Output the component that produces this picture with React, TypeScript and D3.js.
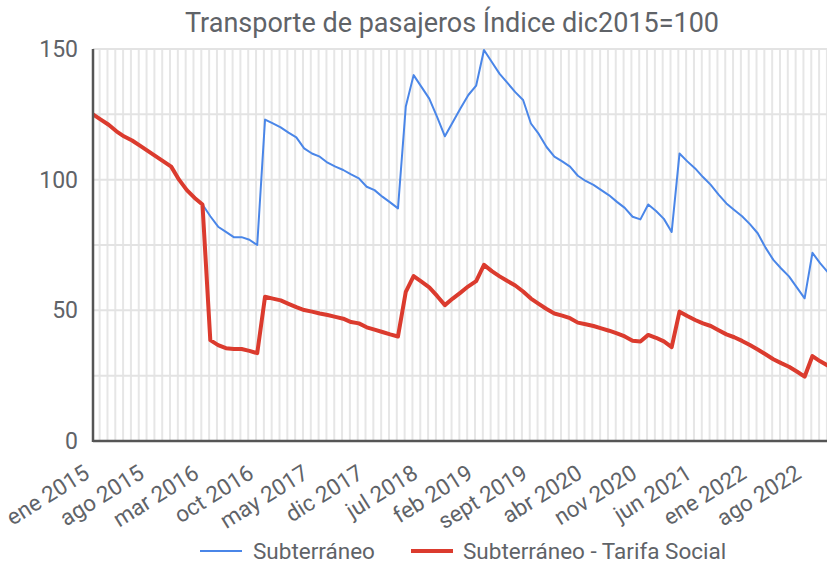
import React from "react";
import * as d3 from "d3";

const subte: number[] = [
  125, 123, 121, 118.5, 116.5, 115, 113, 111, 109, 107, 105, 100, 96, 93, 90.5,
  86, 82, 80, 78, 78, 77, 75,
  123, 121.5, 120, 118, 116.2, 112, 110, 108.8, 106.5, 105, 103.7, 102, 100.5, 97.3, 96, 93.5, 91.3, 89,
  128, 140, 135.5, 131, 124, 116.6, 122, 127.3, 132.4, 136,
  149.6, 145, 140.5, 137, 133.5, 130.5, 121.5, 117.5, 112.5, 108.8, 107, 105, 101.5, 99.5,
  98, 96, 94, 91.5, 89.2, 85.8, 84.8, 90.5, 88, 85, 80,
  110, 107, 104.3, 101, 98, 94.3, 90.9, 88.4, 86, 83, 79.5, 74, 69.3, 66, 63, 58.8, 54.6,
  72, 68, 64.5,
];

const tarifaSocial: number[] = [
  125, 123, 121, 118.5, 116.5, 115, 113, 111, 109, 107, 105, 100, 96, 93, 90.5,
  38.6, 36.7, 35.5, 35.2, 35.2, 34.5, 33.6,
  55.2, 54.5, 53.8, 52.5, 51.2, 50.1, 49.5, 48.8, 48.2, 47.5, 46.8, 45.5, 45, 43.5, 42.6, 41.7, 40.8, 40,
  57.1, 63.1, 61, 58.8, 55.5, 52, 54.5, 56.8, 59.2, 61.2,
  67.4, 65, 63, 61.2, 59.5, 57.2, 54.5, 52.5, 50.5, 48.8, 48, 47, 45.3, 44.7,
  44, 43.1, 42.2, 41.2, 40, 38.4, 38.1, 40.6, 39.5, 38.1, 35.9,
  49.5, 47.8, 46.3, 45, 44, 42.4, 40.8, 39.7, 38.3, 36.7, 35, 33.2, 31.3, 29.8, 28.4, 26.6, 24.6,
  32.5, 30.5, 28.8,
];

const xTickLabels: string[] = [
  "ene 2015", "ago 2015", "mar 2016", "oct 2016", "may 2017", "dic 2017", "jul 2018",
  "feb 2019", "sept 2019", "abr 2020", "nov 2020", "jun 2021", "ene 2022", "ago 2022",
];
const xTickStep = 7;
const yTicks: number[] = [0, 50, 100, 150];
const yGrid: number[] = [0, 25, 50, 75, 100, 125, 150];

const title = "Transporte de pasajeros Índice dic2015=100";
const seriesNames = ["Subterráneo", "Subterráneo - Tarifa Social"];

const W = 827;
const H = 565;
const FONT = "Roboto, 'Noto Sans', sans-serif";
const TEXT = "#5f6368";
const BLUE = "#4a86e8";
const RED = "#db3b2e";

export default function App() {
  const n = subte.length;
  const x = d3.scaleLinear().domain([0, n - 1]).range([93, 93 + (n - 1) * 7.82]);
  const y = d3.scaleLinear().domain([0, 150]).range([441, 49]);

  const line = d3
    .line<number>()
    .x((_, i) => x(i))
    .y((d) => y(d));

  const vGrid = d3.range(0, n + 1).map((i) => x(i + 0.85)).filter((v) => v < W);

  return (
    <div style={{ position: "absolute", left: 0, top: 0, width: W, height: H, overflow: "hidden" }}>
      <svg width={W} height={H} style={{ display: "block", background: "#fff" }} fontFamily={FONT}>
        <text x={452} y={32} textAnchor="middle" fontSize={27} fill={TEXT}>
          {title}
        </text>
        {vGrid.map((gx, i) => (
          <line key={"v" + i} x1={gx} x2={gx} y1={y(150)} y2={y(0)} stroke="#e6e6e6" strokeWidth={2} />
        ))}
        {yGrid.map((t) => (
          <line key={"h" + t} x1={x(0)} x2={W} y1={y(t)} y2={y(t)} stroke="#e3e3e3" strokeWidth={2} />
        ))}
        {yTicks.map((t) => (
          <text key={"yt" + t} x={78} y={y(t) + 8} textAnchor="end" fontSize={23} fill={TEXT}>
            {t}
          </text>
        ))}
        <path d={line(subte) || ""} fill="none" stroke={BLUE} strokeWidth={2} strokeLinejoin="round" />
        <path d={line(tarifaSocial) || ""} fill="none" stroke={RED} strokeWidth={4} strokeLinejoin="round" />
        <line x1={x(0)} x2={x(0)} y1={y(150)} y2={y(0) + 1} stroke="#555" strokeWidth={2.5} />
        <line x1={x(0)} x2={W} y1={y(0)} y2={y(0)} stroke="#555" strokeWidth={2.5} />
        {xTickLabels.map((lab, k) => {
          const tx = x(k * xTickStep) - 2;
          const ty = 477;
          return (
            <text
              key={"xl" + k}
              x={tx}
              y={ty}
              textAnchor="end"
              fontSize={22.5}
              fill={TEXT}
              transform={`rotate(-32 ${tx} ${ty})`}
            >
              {lab}
            </text>
          );
        })}
        <line x1={200} x2={242} y1={551} y2={551} stroke={BLUE} strokeWidth={2} />
        <text x={253} y={559} fontSize={22.5} fill={TEXT}>
          {seriesNames[0]}
        </text>
        <line x1={411} x2={453} y1={551} y2={551} stroke={RED} strokeWidth={4} />
        <text x={463} y={559} fontSize={22.5} fill={TEXT}>
          {seriesNames[1]}
        </text>
      </svg>
    </div>
  );
}
